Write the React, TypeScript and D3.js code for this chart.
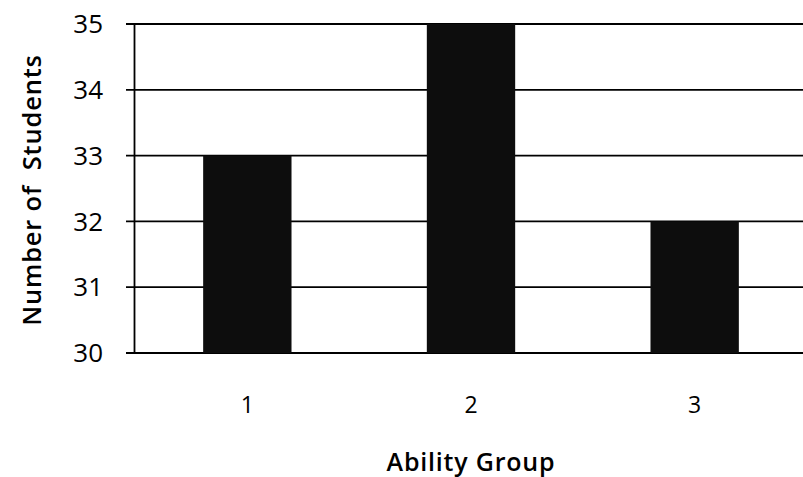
import React from "react";
import * as d3 from "d3";

const categories = ["1", "2", "3"];
const values = [33, 35, 32];
const yTicks = [30, 31, 32, 33, 34, 35];

const W = 803;
const H = 477;

export default function App() {
  const x = d3.scaleBand<string>().domain(categories).range([135.5, 806.5]).paddingInner(0.605).paddingOuter(0.3025);
  const y = d3.scaleLinear().domain([30, 35]).range([353, 24]);
  const font = "'Open Sans', 'Noto Sans', sans-serif";
  return (
    <svg width={W} height={H} style={{ position: "absolute", left: 0, top: 0, background: "#fff" }}>
      <rect x={0} y={0} width={W} height={H} fill="#fff" />
      {yTicks.map((t) => (
        <line key={"g" + t} x1={126} x2={W} y1={y(t)} y2={y(t)} stroke="#000" strokeWidth={1.8} />
      ))}
      {categories.map((c, i) => (
        <rect key={c} x={x(c)} y={y(values[i])} width={x.bandwidth()} height={y(30) - y(values[i])} fill="#0d0d0d" />
      ))}
      <line x1={134.5} x2={134.5} y1={y(35)} y2={y(30)} stroke="#000" strokeWidth={1.8} />
      {yTicks.map((t) => (
        <text key={"t" + t} x={103} y={y(t)} dy="0.35em" textAnchor="end" fontFamily={font} fontSize={26} fill="#000">
          {t}
        </text>
      ))}
      {categories.map((c) => (
        <text key={"x" + c} x={(x(c) as number) + x.bandwidth() / 2} y={413} textAnchor="middle" fontFamily={font} fontSize={23} fill="#000">
          {c}
        </text>
      ))}
      <text x={471} y={471} textAnchor="middle" fontFamily={font} fontSize={25} fontWeight={600} letterSpacing={0.8} fill="#000">
        Ability Group
      </text>
      <text transform="translate(41,190) rotate(-90)" textAnchor="middle" fontFamily={font} fontSize={25.5} fontWeight={600} letterSpacing={0.8} fill="#000" style={{ whiteSpace: "pre" }}>
        {"Number of  Students"}
      </text>
    </svg>
  );
}
